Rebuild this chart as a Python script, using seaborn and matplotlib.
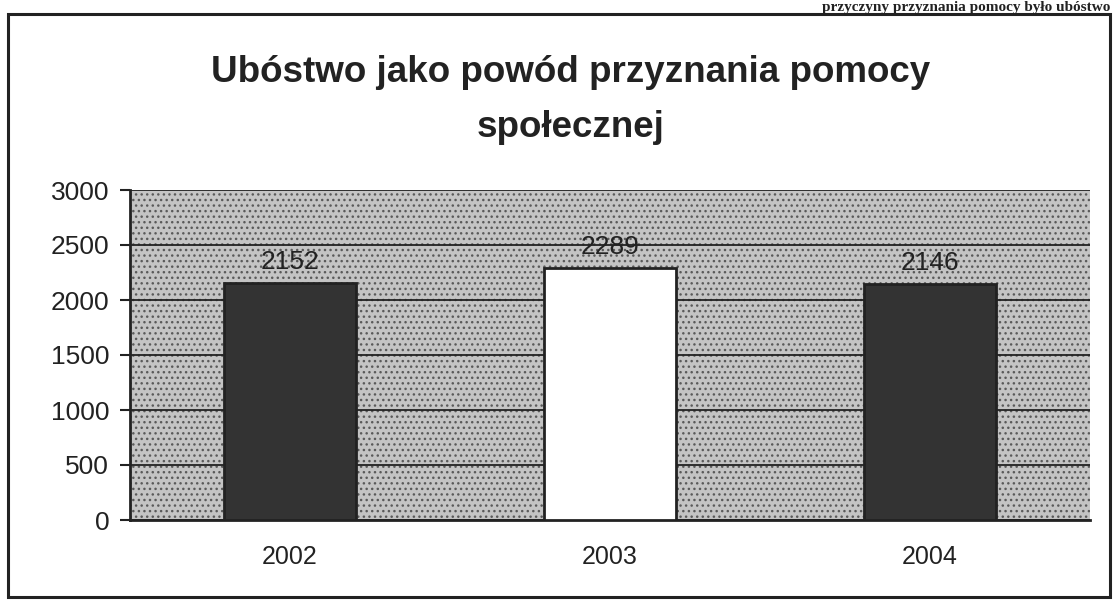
import matplotlib
matplotlib.use("Agg")
import matplotlib.pyplot as plt
import matplotlib.patches as mpatches
import seaborn as sns
import pandas as pd

years = ["2002", "2003", "2004"]
values = [2152, 2289, 2146]
bar_colors = ["#333333", "#ffffff", "#333333"]
title_text = "Ubóstwo jako powód przyznania pomocy\nspołecznej"
top_text = "przyczyny przyznania pomocy było ubóstwo"
yticks = [0, 500, 1000, 1500, 2000, 2500, 3000]

sns.set_theme(style="white")
plt.rcParams['font.family'] = ['Liberation Sans', 'DejaVu Sans']

df = pd.DataFrame({"year": years, "value": values})

fig = plt.figure(figsize=(11.16, 6.07), dpi=100)
fig.patch.set_facecolor("white")

# outer frame
frame = mpatches.Rectangle((8 / 1116, 1 - 597 / 607), (1110 - 8) / 1116, (597 - 14) / 607,
                           transform=fig.transFigure, fill=False, edgecolor="#222222",
                           linewidth=2.2)
fig.patches.append(frame)

# text of the scanned page above the chart
fig.text(0.995, 0.999, top_text, ha="right", va="top",
         fontsize=11, fontweight="bold", family=["Liberation Serif", "DejaVu Serif"],
         color="#222222")

ax = fig.add_axes([130 / 1116, 1 - 520 / 607, (1090 - 130) / 1116, (520 - 190) / 607])
ax.set_facecolor("#bdbdbd")

# stipple effect
bg = mpatches.Rectangle((0, 0), 1, 1, transform=ax.transAxes, facecolor="#c4c4c4",
                        hatch="...", edgecolor="#5a5a5a", linewidth=0, zorder=0)
ax.add_patch(bg)

sns.barplot(data=df, x="year", y="value", hue="year", palette=bar_colors,
            legend=False, width=0.41, edgecolor="#222222", linewidth=2, ax=ax,
            zorder=3)

for i, v in enumerate(values):
    ax.text(i, v + 80, str(v), ha="center", va="bottom", fontsize=19,
            color="#222222", zorder=4)

ax.set_ylim(0, 3000)
ax.set_xlim(-0.5, 2.5)
ax.set_yticks(yticks)
ax.set_yticklabels([str(t) for t in yticks], fontsize=19, color="#222222")
ax.tick_params(axis="y", length=7, width=1.5, color="#222222", direction="out", pad=8, left=True)
ax.set_xticks([0, 1, 2])
ax.set_xticklabels(years, fontsize=18, color="#222222")
ax.tick_params(axis="x", length=0, pad=18)
ax.yaxis.grid(True, color="#222222", linewidth=1.3)
ax.set_axisbelow(False)
for l in ax.get_ygridlines():
    l.set_zorder(2)
ax.set_xlabel("")
ax.set_ylabel("")
for s in ["top", "right"]:
    ax.spines[s].set_visible(False)
ax.spines["left"].set_color("#222222")
ax.spines["left"].set_linewidth(2)
ax.spines["bottom"].set_color("#222222")
ax.spines["bottom"].set_linewidth(2)

fig.text(571 / 1116, 1 - 100 / 607, title_text, ha="center", va="center",
         fontsize=26.5, fontweight="bold", color="#222222", linespacing=1.75)

fig.savefig("out.png", dpi=100)
